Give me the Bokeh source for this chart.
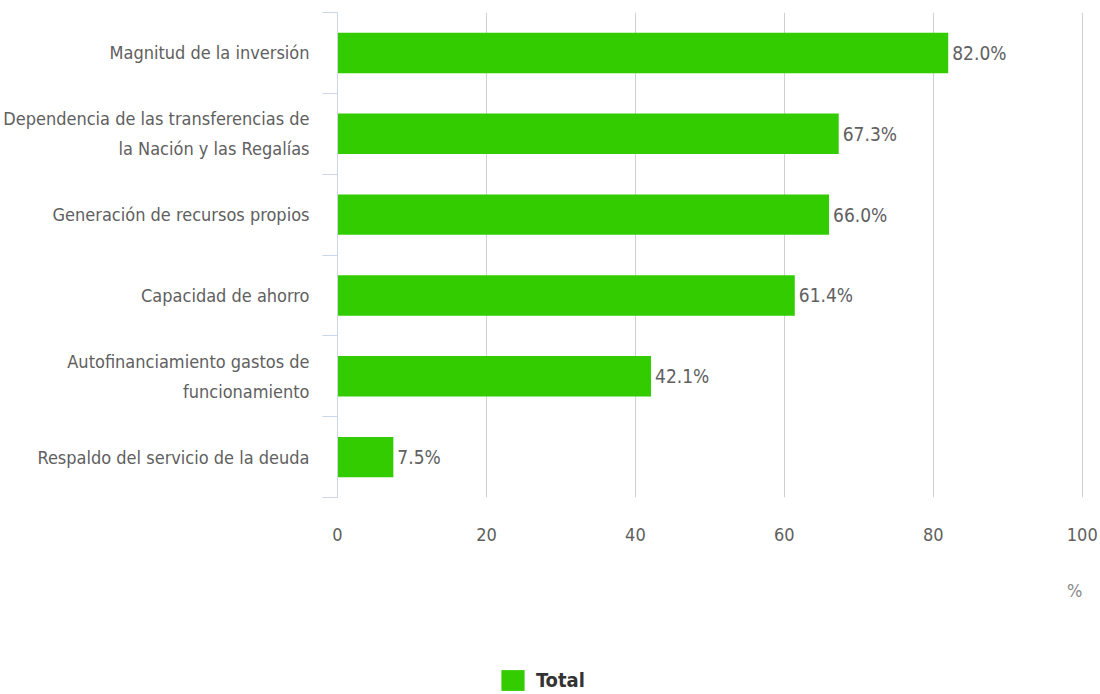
from bokeh.plotting import figure
from bokeh.layouts import column
from bokeh.models import (ColumnDataSource, FixedTicker, Legend, LegendItem,
                          LabelSet, Label)
from bokeh.core.properties import value
from bokeh.embed import file_html
from bokeh.resources import INLINE

categories = [
    "Magnitud de la inversión",
    "Dependencia de las transferencias de\nla Nación y las Regalías",
    "Generación de recursos propios",
    "Capacidad de ahorro",
    "Autofinanciamiento gastos de\nfuncionamiento",
    "Respaldo del servicio de la deuda",
]
values = [82.0, 67.3, 66.0, 61.4, 42.1, 7.5]
x_ticks = [0, 20, 40, 60, 80, 100]
series_name = "Total"
unit_label = "%"

FONT = "'Liberation Sans Narrow', 'DejaVu Sans Condensed', 'Roboto Condensed', 'Arial Narrow', sans-serif"
GREEN = "#33cc00"
TXT = "#606060"

W = 1100
LEFT, RIGHT = 336, 16

n = len(categories)
ypos = [n - 0.5 - i for i in range(n)]
labels = [f"{v:.1f}%" for v in values]
src = ColumnDataSource(dict(y=ypos, v=values, lab=labels))

# ---------------- main chart ----------------
p = figure(width=W, height=550, x_range=(0, 100.3), y_range=(0, n),
           output_backend="svg", toolbar_location=None,
           min_border_left=LEFT, min_border_right=RIGHT, min_border_top=12,
           min_border_bottom=53)
p.outline_line_color = None
p.background_fill_color = "white"

p.hbar(y="y", right="v", left=0, height=0.5, source=src,
       fill_color=GREEN, line_color=None)

p.add_layout(LabelSet(x="v", y="y", text="lab", source=src, x_offset=4,
                      text_baseline="middle", text_font=value(FONT),
                      text_font_size="19px", text_color=TXT))

xa = p.xaxis[0]
xa.ticker = FixedTicker(ticks=x_ticks)
xa.axis_line_color = None
xa.major_tick_line_color = None
xa.minor_tick_line_color = None
xa.major_label_standoff = 24
xa.major_label_text_font = FONT
xa.major_label_text_font_size = "18px"
xa.major_label_text_color = TXT

ya = p.yaxis[0]
ya.ticker = FixedTicker(ticks=ypos, minor_ticks=list(range(n + 1)))
ya.major_label_overrides = {y: c for y, c in zip(ypos, categories)}
ya.axis_line_color = "#ccd6eb"
ya.major_tick_line_color = None
ya.major_tick_out = 0
ya.major_tick_in = 0
ya.minor_tick_line_color = "#ccd6eb"
ya.minor_tick_out = 15
ya.minor_tick_in = 0
ya.major_label_standoff = 13
ya.major_label_text_font = FONT
ya.major_label_text_font_size = "18px"
ya.major_label_text_color = TXT
ya.major_label_text_line_height = 1.45

p.xgrid.ticker = FixedTicker(ticks=x_ticks[1:])
p.xgrid.grid_line_color = "#d0d0d0"
p.ygrid.grid_line_color = None

# ---------------- bottom strip: unit label and legend ----------------
H = 144
p2 = figure(width=W, height=H, x_range=(LEFT, W - RIGHT), y_range=(0, H),
            output_backend="svg", toolbar_location=None,
            x_axis_location=None, y_axis_location=None,
            min_border_left=LEFT, min_border_right=RIGHT,
            min_border_top=0, min_border_bottom=0)
p2.outline_line_color = None
p2.grid.visible = False

p2.add_layout(Label(x=W - RIGHT - 2, y=104, text=unit_label, text_align="right",
                    text_baseline="middle", text_font=FONT,
                    text_font_size="18px", text_color="#888888"))

# hidden copy of the series, used only for the legend swatch
swatch = p2.hbar(y="y", right="v", left=0, height=0.5, source=src,
                 fill_color=GREEN, line_color=None, visible=False)
legend = Legend(items=[LegendItem(label=series_name, renderers=[swatch])],
                location=(497 - LEFT, 1), orientation="horizontal",
                border_line_color=None, background_fill_alpha=0,
                padding=0, margin=0, glyph_width=29, glyph_height=26,
                label_text_font=FONT, label_text_font_size="20px",
                label_text_font_style="bold", label_text_color="#333333",
                label_standoff=9)
p2.add_layout(legend, "center")

layout = column(p, p2, spacing=0)
open("out.html", "w").write(file_html(layout, INLINE))
